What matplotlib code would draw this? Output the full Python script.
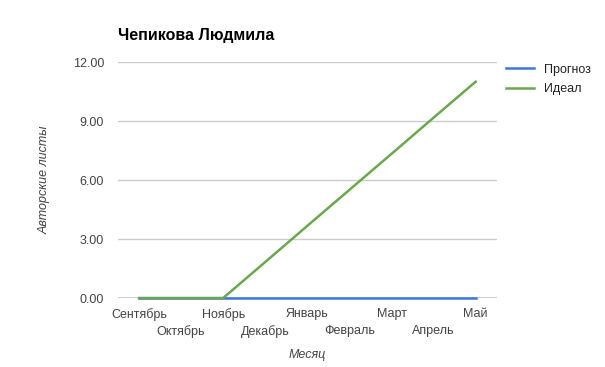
import matplotlib
matplotlib.use('Agg')
import matplotlib.pyplot as plt

plt.rcParams['font.family'] = ['Liberation Sans', 'DejaVu Sans']

# Данные
months = ['Сентябрь', 'Октябрь', 'Ноябрь', 'Декабрь', 'Январь',
          'Февраль', 'Март', 'Апрель', 'Май']
prognoz = [0, 0, 0, 0, 0, 0, 0, 0, 0]
ideal = [0, 0, 0, 1.83, 3.67, 5.5, 7.33, 9.17, 11.0]
yticks = [0, 3, 6, 9, 12]

fig = plt.figure(figsize=(6.05, 3.67), dpi=100)
ax = fig.add_axes([0.195, 0.188, 0.626, 0.643])

x = list(range(len(months)))
ax.axhline(0, color='#333333', linewidth=1, zorder=2)
ax.plot(x, prognoz, color='#3c78d8', linewidth=1.8, label='Прогноз', zorder=3, clip_on=False)
ax.plot(x, ideal, color='#6aa84f', linewidth=1.8, label='Идеал', zorder=4, clip_on=False)

ax.set_xlim(-0.5, len(months) - 0.5)
ax.set_ylim(0, 12)
ax.set_yticks(yticks)
ax.set_yticklabels(['%.2f' % v for v in yticks])

# подписи месяцев в два ряда
ax.set_xticks(x[::2])
ax.set_xticklabels(months[::2])
ax.set_xticks(x[1::2], minor=True)
ax.set_xticklabels(months[1::2], minor=True)

ax.grid(axis='y', color='#cccccc', linewidth=1)
for s in ax.spines.values():
    s.set_visible(False)
ax.tick_params(which='both', length=0, colors='#444444', labelsize=9)
ax.tick_params(axis='y', pad=10)
ax.tick_params(axis='x', which='major', pad=7)
ax.tick_params(axis='x', which='minor', pad=19.5)

ax.set_xlabel('Месяц', fontstyle='italic', color='#444444', fontsize=9, labelpad=8)
ax.set_ylabel('Авторские листы', fontstyle='italic', color='#444444', fontsize=9, labelpad=16)

fig.text(0.195, 0.89, 'Чепикова Людмила', fontsize=11.5, fontweight='bold', color='black')

leg = ax.legend(loc='upper left', bbox_to_anchor=(0.995, 1.04), frameon=False,
                fontsize=9, handlelength=2.2, labelspacing=0.6)
for t in leg.get_texts():
    t.set_color('#222222')

fig.savefig('out.png', dpi=100)
